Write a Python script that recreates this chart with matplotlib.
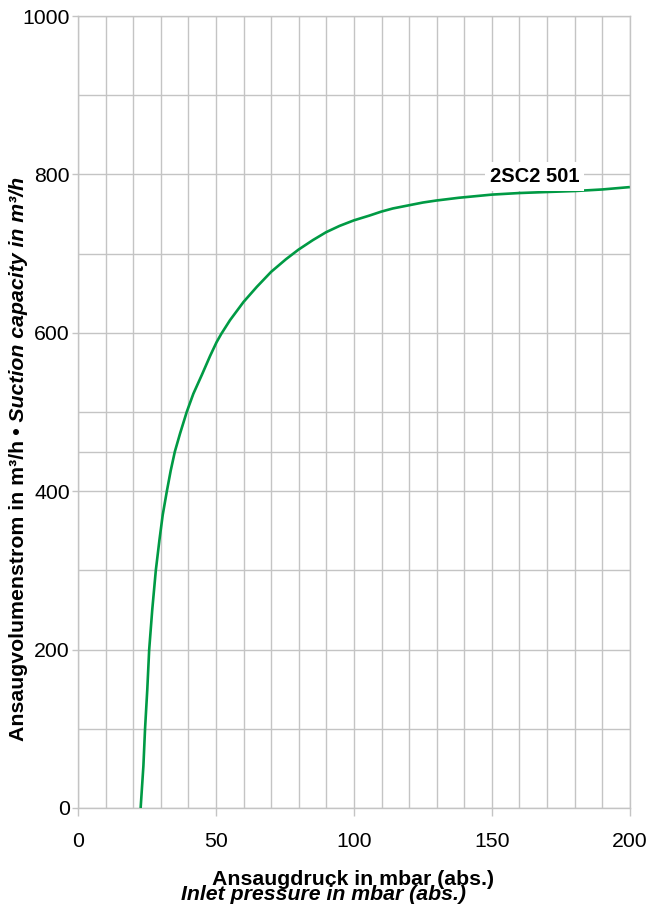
import numpy as np
import matplotlib
matplotlib.use("Agg")
import matplotlib.pyplot as plt
from matplotlib.ticker import MultipleLocator, FixedLocator

plt.rcParams["font.family"] = ["Liberation Sans", "DejaVu Sans"]

# curve (inlet pressure mbar -> suction capacity m3/h)
pressure = [22.7, 23.7, 24.3, 25.1, 25.8, 26.9, 28.2, 29.5, 30.7, 32.2,
            33.6, 35.1, 37.0, 39.4, 41.8, 44.9, 47.9, 50.2, 51.9, 55.1,
            60, 64.8, 70, 75.4, 79.9, 85.1, 89.9, 94.8, 100, 105.6,
            109.9, 114.1, 119.9, 125, 129.8, 138, 150, 160, 170, 180,
            190, 200]
capacity = [0, 53, 100, 149, 200, 250, 300, 338, 370, 400,
            426, 450, 473, 500, 523, 547, 571, 588, 598.5, 616,
            639, 658, 677, 693, 705, 717, 727, 735, 742, 748,
            753, 757, 761, 764.5, 767, 770.5, 774.5, 776.5, 777.8, 779,
            781, 784]

CURVE_NAME = "2SC2 501"
X_TICKS = [0, 50, 100, 150, 200]
Y_TICKS = [0, 200, 400, 600, 800, 1000]
Y_GRID_EXTRA = [100, 300, 450, 500, 700, 900]

GREEN = "#009a44"
GRID  = "#c4c4c4"
FS = 15.3

fig = plt.figure(figsize=(6.5, 9.05), dpi=100, facecolor="white")
ax = fig.add_axes([0.12, 0.1072, 0.849, 0.8751])

ax.plot(pressure, capacity, color=GREEN, lw=1.9, zorder=3,
        solid_capstyle="butt", solid_joinstyle="round")

ax.set_xlim(0, 200)
ax.set_ylim(0, 1000)
ax.xaxis.set_major_locator(FixedLocator(X_TICKS))
ax.xaxis.set_minor_locator(MultipleLocator(10))
ax.yaxis.set_major_locator(FixedLocator(Y_TICKS))
ax.yaxis.set_minor_locator(FixedLocator(Y_GRID_EXTRA))

ax.grid(True, which="both", color=GRID, lw=1.0, zorder=0)
ax.set_axisbelow(True)
for s in ax.spines.values():
    s.set_color(GRID)
    s.set_linewidth(1.0)

ax.tick_params(axis="both", which="minor", length=0)
ax.tick_params(axis="x", which="major", length=6, width=1.0, color=GRID,
               pad=11, labelsize=FS)
ax.tick_params(axis="y", which="major", length=4.5, width=1.0, color=GRID,
               pad=1.5, labelsize=FS)

ax.text(165.5, 797, CURVE_NAME, ha="center", va="center", fontsize=14.5,
        fontweight="bold", zorder=4,
        bbox=dict(boxstyle="square,pad=0.25", fc="white", ec="none"))

# x label, two lines (German bold, English bold italic)
fig.text(0.543, 1 - 879 / 905, "Ansaugdruck in mbar (abs.)", ha="center",
         va="center", fontsize=FS, fontweight="bold")
fig.text(0.498, 1 - 894 / 905, "Inlet pressure in mbar (abs.)", ha="center",
         va="center", fontsize=FS, fontweight="bold", style="italic")

# y label, two styles on one rotated line
y0 = 1 - 741 / 905
t1 = fig.text(0.029, y0, "Ansaugvolumenstrom in m³/h", rotation=90,
              rotation_mode="anchor", ha="left", va="center",
              fontsize=FS, fontweight="bold")
fig.canvas.draw()
bb = t1.get_window_extent()
y1 = (bb.y1 + 5) / fig.bbox.height
fig.text(0.029, y1, "• Suction capacity in m³/h", rotation=90,
         rotation_mode="anchor", ha="left", va="center",
         fontsize=FS, fontweight="bold", style="italic")

fig.savefig("out.png", dpi=100, facecolor="white")
